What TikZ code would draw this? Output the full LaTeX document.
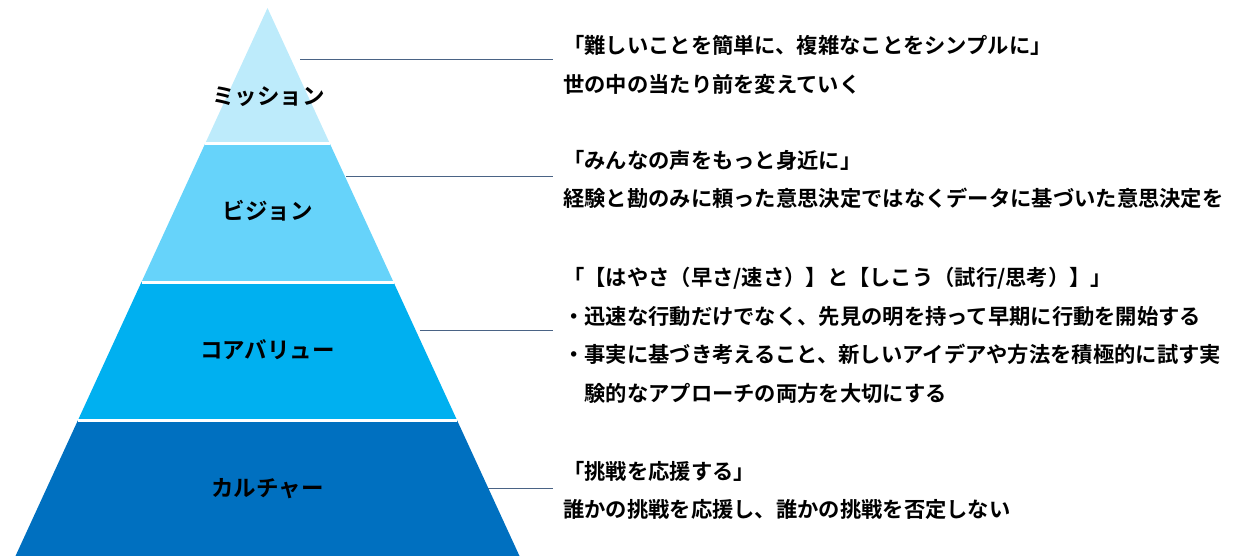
\documentclass[tikz,border=0pt]{standalone}
\usepackage{fontspec}
\setmainfont{Noto Sans CJK JP}[BoldFont={* Bold}]
\usepackage{xcolor}
\usepackage{tikz}
\usetikzlibrary{positioning, calc}

\definecolor{missionblue}{HTML}{BDEBFB}
\definecolor{visionblue}{HTML}{66D3FA}
\definecolor{valueblue}{HTML}{00B0F0}
\definecolor{cultureblue}{HTML}{0070C0}
\definecolor{linkblue}{HTML}{4A6385}

\begin{document}
\begin{tikzpicture}[x=1pt, y=-1pt,
  layer label/.style={font=\fontsize{22.5}{24}\selectfont\bfseries, text=black},
  desc/.style={anchor=west, align=left, inner xsep=10pt, inner ysep=0pt,
    font=\fontsize{21.3}{38.7}\selectfont\bfseries},
  link/.style={draw=linkblue, line width=1pt}]

\useasboundingbox (0,0) rectangle (1239,556);

% Pyramid
\coordinate (apex) at (267.5,8);
\coordinate (bl) at (15.5,556);
\coordinate (br) at (519.5,556);

\fill[missionblue] (apex) -- ($(apex)!0.2464!(br)$) -- ($(apex)!0.2464!(bl)$) -- cycle;
\fill[visionblue] ($(apex)!0.2464!(bl)$) -- ($(apex)!0.2464!(br)$) -- ($(apex)!0.5!(br)$) -- ($(apex)!0.5!(bl)$) -- cycle;
\fill[valueblue] ($(apex)!0.5!(bl)$) -- ($(apex)!0.5!(br)$) -- ($(apex)!0.7536!(br)$) -- ($(apex)!0.7536!(bl)$) -- cycle;
\fill[cultureblue] ($(apex)!0.7536!(bl)$) -- ($(apex)!0.7536!(br)$) -- (br) -- (bl) -- cycle;

% white gaps between layers
\foreach \f in {0.2464, 0.5, 0.7536}
  \draw[white, line width=3pt] ($(apex)!\f!(bl)$) -- ($(apex)!\f!(br)$);

% Layer labels
\node[layer label] (mission) at (268.5,97) {ミッション};
\node[layer label] (vision) at (267.5,211) {ビジョン};
\node[layer label] (values) at (267.5,350) {コアバリュー};
\node[layer label] (culture) at (267.5,489) {カルチャー};

% Descriptions
\node[desc] (missiontext) at (553,64.5)
  {「難しいことを簡単に、複雑なことをシンプルに」\\
   世の中の当たり前を変えていく};
\node[desc] (visiontext) at (553,179.5)
  {「みんなの声をもっと身近に」\\
   経験と勘のみに頼った意思決定ではなくデータに基づいた意思決定を};
\node[desc] (valuestext) at (553,335.5)
  {「【はやさ（早さ/速さ）】と【しこう（試行/思考）】」\\
   ・迅速な行動だけでなく、先見の明を持って早期に行動を開始する\\
   ・事実に基づき考えること、新しいアイデアや方法を積極的に試す実\\
   \hspace{1em}験的なアプローチの両方を大切にする};
\node[desc] (culturetext) at (553,490.5)
  {「挑戦を応援する」\\
   誰かの挑戦を応援し、誰かの挑戦を否定しない};

% Links
\coordinate (missionedge) at (300,60);
\coordinate (visionedge) at (346,177);
\coordinate (valuesedge) at (420,330);
\coordinate (cultureedge) at (488,488);

\draw[link] (missionedge) -- (missionedge -| missiontext.west);
\draw[link] (visionedge) -- (visionedge -| visiontext.west);
\draw[link] (valuesedge) -- (valuesedge -| valuestext.west);
\draw[link] (cultureedge) -- (cultureedge -| culturetext.west);

\end{tikzpicture}
\end{document}
